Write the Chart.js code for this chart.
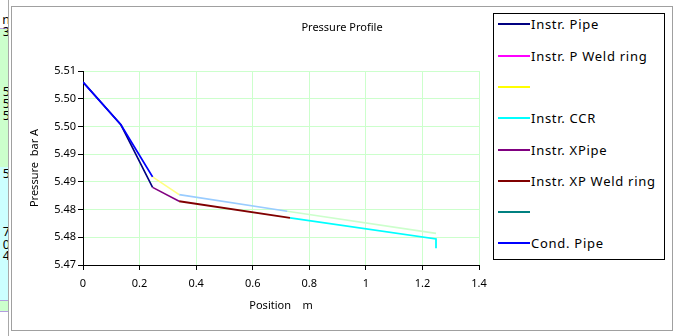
<!DOCTYPE html>
<html><head><meta charset="utf-8">
<script src="https://cdn.jsdelivr.net/npm/chart.js@4.4.1/dist/chart.umd.min.js"></script>
<style>
html,body{margin:0;padding:0;background:#fff;width:677px;height:336px;overflow:hidden;font-family:"Noto Sans",sans-serif;}
#sheet{position:absolute;left:0;top:0;width:8px;height:336px;overflow:hidden;}
#sheet div{position:absolute;left:0;width:8px;}
#sheet span{position:absolute;right:-2px;font-size:12.5px;line-height:14px;color:#000;}
#sep{position:absolute;left:8px;top:0;width:1px;height:336px;background:#a8a8a8;}
#frame{position:absolute;left:11px;top:6px;width:660px;height:323px;border:1px solid #a0a0a0;background:#fff;}
#c{position:absolute;left:12px;top:7px;}
#legend{position:absolute;left:493px;top:13px;width:170px;height:245px;border:1px solid #000;background:#fff;}
.li{position:absolute;left:0;height:20px;width:168px;}
.li .sw{position:absolute;left:4px;top:9px;width:32px;height:2px;}
.li .tx{position:absolute;left:37px;top:0;font-size:13px;line-height:20px;color:#000;white-space:nowrap;letter-spacing:0.72px;}
</style>
</head><body>
<div id="sheet">
  <div style="top:0;height:28px;background:#fff;"></div>
  <div style="top:28px;height:1px;background:#b49ee0;"></div>
  <div style="top:29px;height:138px;background:#ccffcc;"></div>
  <div style="top:167px;height:133px;background:#ccffff;"></div>
  <div style="top:300px;height:1px;background:#b49ee0;"></div>
  <div style="top:301px;height:10px;background:#ccffcc;"></div>
  <div style="top:311px;height:1px;background:#b49ee0;"></div>
  <span style="top:13px;">n</span>
  <span style="top:25px;">3</span>
  <span style="top:85px;">5</span>
  <span style="top:97px;">5</span>
  <span style="top:109px;">5</span>
  <span style="top:167px;">5</span>
  <span style="top:225px;">7</span>
  <span style="top:238px;">0</span>
  <span style="top:249px;">4</span>
</div>
<div id="sep"></div>
<div id="frame"></div>
<canvas id="c" width="660" height="323"></canvas>
<div id="legend"></div>
<script>
// ---- data ----
const chartTitle = 'Pressure Profile';
const xAxisTitle = 'Position    m';
const yAxisTitle = 'Pressure  bar A';
const xTickLabels = ['0', '0.2', '0.4', '0.6', '0.8', '1', '1.2', '1.4'];
const yTickLabels = ['5.47', '5.48', '5.48', '5.49', '5.49', '5.50', '5.50', '5.51'];

const seriesNames  = ['Instr. Pipe', 'Instr. P Weld ring', '', 'Instr. CCR', 'Instr. XPipe', 'Instr. XP Weld ring', '', 'Cond. Pipe'];
const seriesColors = ['#000080', '#ff00ff', '#ffff00', '#00ffff', '#800080', '#800000', '#008080', '#0000ff'];

const instrPipeX = [0, 0.134, 0.246];
const instrPipeY = [5.5030, 5.4953, 5.4840];
const instrPWeldX = [];
const instrPWeldY = [];
const yellowX = [0.246, 0.340];
const yellowY = [5.4859, 5.4827];
const instrCCRX = [0.732, 1.248, 1.248];
const instrCCRY = [5.4785, 5.4747, 5.4730];
const instrXPipeX = [0.246, 0.340];
const instrXPipeY = [5.4840, 5.4815];
const instrXPWeldX = [0.340, 0.732];
const instrXPWeldY = [5.4815, 5.4785];
const tealX = [];
const tealY = [];
const condPipeX = [0, 0.134, 0.246];
const condPipeY = [5.5030, 5.4953, 5.4859];
// unlabelled series outside the visible legend
const lightBlueX = [0.340, 0.722];
const lightBlueY = [5.4827, 5.4797];
const lightGreenX = [0.722, 1.248];
const lightGreenY = [5.4797, 5.4757];

function pts(xs, ys){ return xs.map((x,i)=>({x:x, y:ys[i]})); }

const seriesData = [
  pts(instrPipeX, instrPipeY),
  pts(instrPWeldX, instrPWeldY),
  pts(yellowX, yellowY),
  pts(instrCCRX, instrCCRY),
  pts(instrXPipeX, instrXPipeY),
  pts(instrXPWeldX, instrXPWeldY),
  pts(tealX, tealY),
  pts(condPipeX, condPipeY)
];
const lineColors = ['#000080', '#ff00ff', '#ffff80', '#00ffff', '#800080', '#800000', '#008080', '#0000ff'];
const lineWidths = [1.6, 1.6, 1.6, 1.8, 1.6, 2, 1.6, 1.8];
const drawOrder  = [3, 3, 4, 2, 2, 1, 3, 0];

const datasets = seriesData.map((d, i) => ({
  label: seriesNames[i], data: d, borderColor: lineColors[i], backgroundColor: lineColors[i],
  borderWidth: lineWidths[i], pointRadius: 0, fill: false, tension: 0, order: drawOrder[i]
}));
datasets.push({label:'_lb', data: pts(lightBlueX, lightBlueY), borderColor:'#99ccff', borderWidth:1.6, pointRadius:0, fill:false, order:5});
datasets.push({label:'_lg', data: pts(lightGreenX, lightGreenY), borderColor:'#ccffcc', borderWidth:1.6, pointRadius:0, fill:false, order:5});

const FONT = '"Noto Sans", sans-serif';
new Chart(document.getElementById('c'), {
  type: 'line',
  data: { datasets: datasets },
  options: {
    responsive: false, animation: false, devicePixelRatio: 1,
    layout: { padding: { left: 0, right: 0, top: 0, bottom: 0 } },
    plugins: {
      legend: { display: false }, tooltip: { enabled: false },
      title: { display: true, text: chartTitle, color: '#000',
        font: { family: FONT, size: 11, weight: 'normal', lineHeight: 1.2 },
        padding: { top: 14.4, bottom: 36.4 } }
    },
    scales: {
      x: {
        type: 'linear', min: 0, max: 1.4,
        afterFit: s => { s.height = 65; },
        ticks: { stepSize: 0.2, padding: 7, color: '#000', maxRotation: 0,
          font: { family: FONT, size: 11 },
          callback: (v, i) => xTickLabels[i] },
        grid: { color: '#ccffcc', lineWidth: 1, tickColor: '#000', tickLength: 5 },
        border: { color: '#000', width: 1 },
        title: { display: true, text: xAxisTitle, color: '#000',
          font: { family: FONT, size: 11, lineHeight: 1.2 }, padding: { top: 0, bottom: 17.7 } }
      },
      y: {
        type: 'linear', min: 5.47, max: 5.505,
        afterFit: s => { s.width = 71; },
        ticks: { stepSize: 0.005, padding: 2, color: '#000',
          font: { family: FONT, size: 11 },
          callback: (v, i) => yTickLabels[i] },
        grid: { color: '#ccffcc', lineWidth: 1, tickColor: '#000', tickLength: 5 },
        border: { color: '#000', width: 1 },
        title: { display: true, text: yAxisTitle, color: '#000',
          font: { family: FONT, size: 11, lineHeight: 1.2 }, padding: { top: 16.4, bottom: 0 } }
      },
      // empty spacer on the right, reserving room for the legend box
      yRight: {
        type: 'linear', position: 'right', min: 0, max: 1,
        afterFit: s => { s.width = 193; },
        ticks: { display: false }, grid: { display: false, drawTicks: false },
        border: { display: false }, title: { display: false }
      }
    }
  }
});

// HTML legend built from the series names/colours
const lg = document.getElementById('legend');
const rowY = [23.3, 54.6, 85.9, 117.2, 148.5, 179.8, 211.1, 242.4];
seriesNames.forEach((name, i) => {
  const row = document.createElement('div');
  row.className = 'li';
  row.style.top = (rowY[i] - 13 - 10) + 'px';
  row.innerHTML = '<div class="sw" style="background:' + seriesColors[i] + '"></div><div class="tx">' + name + '</div>';
  lg.appendChild(row);
});
</script>
</body></html>
